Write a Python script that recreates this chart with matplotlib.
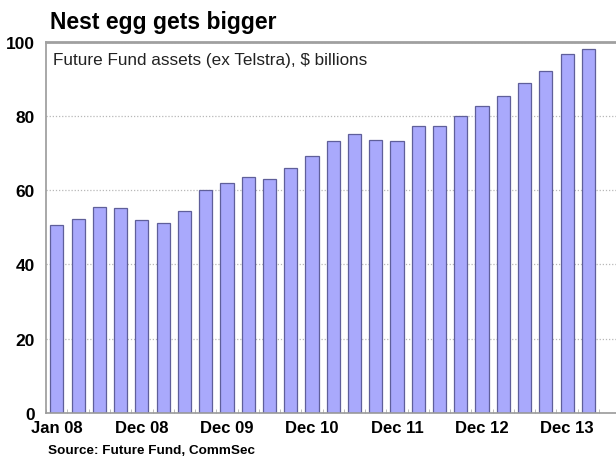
import matplotlib
matplotlib.use("Agg")
import matplotlib.pyplot as plt
import numpy as np

plt.rcParams['font.family'] = ['Liberation Sans', 'DejaVu Sans']

# Future Fund assets (ex Telstra), $ billions, quarterly
assets = [50.5, 52.1, 55.5, 55.2, 51.9, 51.2, 54.3, 60.0, 62.0, 63.6, 63.1, 66.0, 69.3,
          73.3, 75.2, 73.4, 73.3, 77.2, 77.2, 80.1, 82.6, 85.4, 89.0, 92.0, 96.8, 97.9]
tick_pos = [0, 4, 8, 12, 16, 20, 24]
tick_labels = ['Jan 08', 'Dec 08', 'Dec 09', 'Dec 10', 'Dec 11', 'Dec 12', 'Dec 13']

fig = plt.figure(figsize=(6.16, 4.64), dpi=100)
ax = fig.add_axes([0.075, 0.108, 0.925, 0.800])

x = np.arange(len(assets))
ax.bar(x, assets, width=0.62, color='#a9a9fc', edgecolor='#5f5f9a', linewidth=0.9, zorder=2)

ax.set_xlim(-0.45, 26.3)
ax.set_ylim(0, 100)
ax.set_yticks([0, 20, 40, 60, 80, 100])
ax.set_xticks(tick_pos)
ax.set_xticklabels(tick_labels)
ax.set_xticks(np.arange(-0.5, len(assets), 1), minor=True)
ax.tick_params(axis='x', which='major', length=0, pad=5, labelsize=12)
ax.tick_params(axis='x', which='minor', length=3, direction='in', color='#b0b0b0')
ax.tick_params(axis='y', length=0, pad=8, labelsize=12.5)
for lab in ax.get_xticklabels() + ax.get_yticklabels():
    lab.set_fontweight('bold')

ax.yaxis.grid(True, linestyle=(0, (1, 1.5)), color='#b8b8b8', linewidth=0.9)
ax.set_axisbelow(True)

for side in ['left', 'bottom']:
    ax.spines[side].set_color('#9a9a9a')
    ax.spines[side].set_linewidth(1.2)
ax.spines['top'].set_color('#a0a0a0')
ax.spines['top'].set_linewidth(2)
ax.spines['right'].set_visible(False)

ax.text(0.012, 0.972, 'Future Fund assets (ex Telstra), $ billions', transform=ax.transAxes,
        fontsize=12.3, va='top', ha='left', color='#222222')

fig.text(0.081, 0.926, 'Nest egg gets bigger', fontsize=16.5, fontweight='bold', va='bottom', ha='left')
fig.text(0.078, 0.016, 'Source: Future Fund, CommSec', fontsize=9.7, fontweight='bold', va='bottom', ha='left')

fig.savefig('out.png', dpi=100)
